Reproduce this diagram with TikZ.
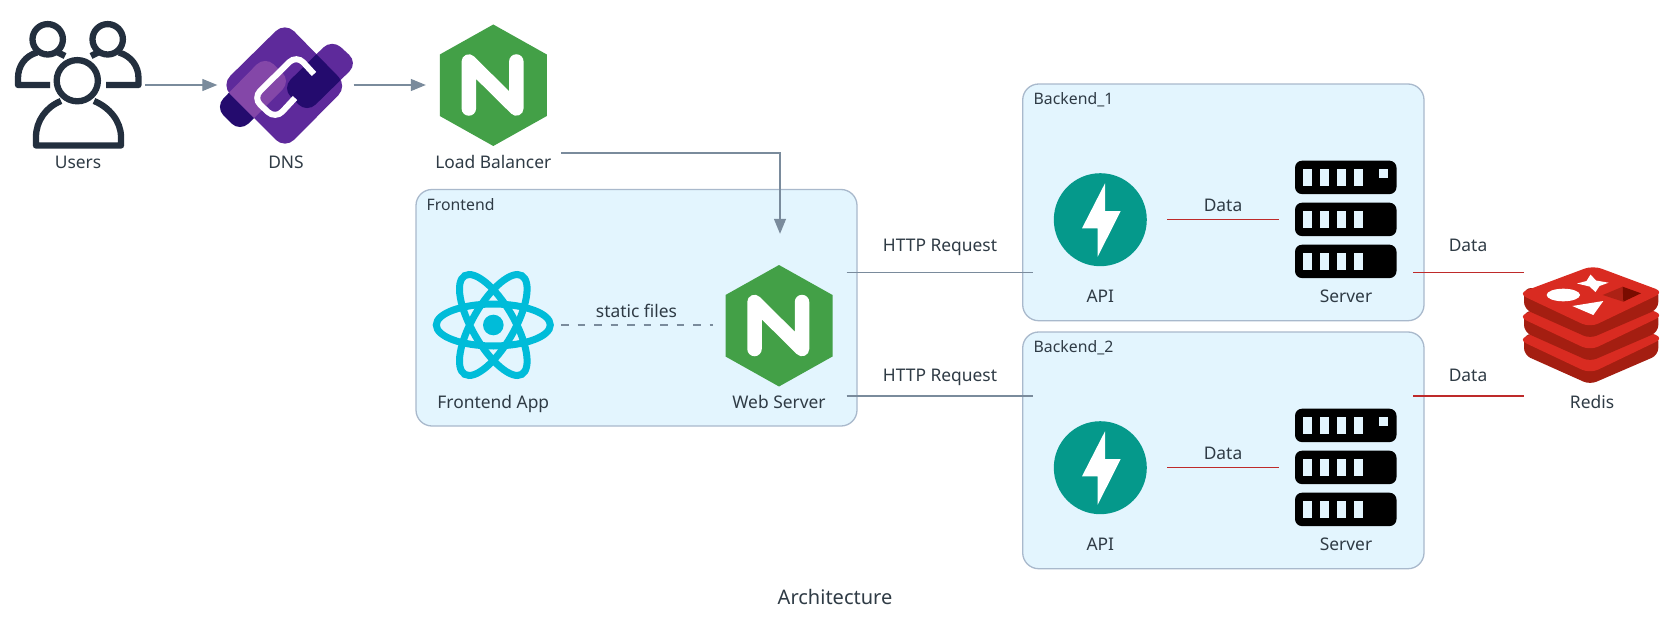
\documentclass[tikz,border=0pt]{standalone}
\usepackage{fontspec}
\setmainfont{Noto Sans}
\usetikzlibrary{arrows.meta,calc}
\definecolor{txt}{HTML}{2F3B45}
\definecolor{conn}{HTML}{7A8B9C}
\definecolor{redline}{HTML}{BE2A2A}
\definecolor{boxfill}{HTML}{E3F5FE}
\definecolor{boxline}{HTML}{A9B9CC}
\definecolor{awsdark}{HTML}{232F3E}
\definecolor{ngreen}{HTML}{43A047}
\definecolor{reactc}{HTML}{00BCD9}
\definecolor{fastc}{HTML}{05998B}
\definecolor{dnsmain}{HTML}{5E2A9B}
\definecolor{dnsdark}{HTML}{240B6E}
\definecolor{dnslight}{HTML}{8447A8}
\definecolor{redtop}{HTML}{D92B21}
\definecolor{redside}{HTML}{A41E11}
\definecolor{redcube}{HTML}{AD2115}
\definecolor{redcubed}{HTML}{7A0C00}
\tikzset{
  x=1pt,y=-1pt,
  lbl/.style={anchor=base,inner sep=0pt,text=txt,font=\fontsize{17.4}{20}\selectfont},
  grp/.style={anchor=base west,inner sep=0pt,text=txt,font=\fontsize{15.8}{18}\selectfont},
  ttl/.style={anchor=base,inner sep=0pt,text=txt,font=\fontsize{20}{24}\selectfont},
  groupbox/.style={draw=boxline,fill=boxfill,line width=1.3pt,rounded corners=16pt},
  iconbox/.style={inner sep=0pt,minimum width=#1,minimum height=130pt},
  flow/.style={draw=conn,line width=1.3pt},
  flowarrow/.style={flow,-{Triangle[length=15pt,width=12pt,fill=conn]}},
  dataline/.style={draw=redline,line width=1.3pt},
  pics/nginx/.style={code={
    \fill[ngreen] (0,-61) -- (53.5,-31) -- (53.5,30.5) -- (0,60.5) -- (-53.5,30.5) -- (-53.5,-31) -- cycle;
    \draw[white,line width=14.5pt,line cap=round,line join=round]
      (-24.5,23) -- (-24.5,-24) -- (23,23) -- (23,-24);
  }},
  pics/fastapi/.style={code={
    \fill[fastc] (0,0) circle[radius=46.5pt];
    \fill[white] (4.7,-36.4) -- (4.7,-8.7) -- (20.4,-8.7) -- (-2.6,37) -- (-2.6,8.6) -- (-18.3,8.6) -- cycle;
  }},
  pics/serverrack/.style={code={
    \foreach \yy in {-59,-17,25}{
      \fill[black,rounded corners=7pt] (-51,\yy) rectangle (50.5,\yy+33.4);
      \foreach \xx in {-42.7,-25.7,-9,8}{
        \fill[boxfill] (\xx,\yy+8.3) rectangle (\xx+8.7,\yy+25);
      }
    }
    \fill[boxfill] (33,-50.7) rectangle (41.7,-42);
  }},
  pics/redislayer/.style={code={
    \fill[redside,rounded corners=7pt] (1524,288) -- (1524,309) -- (1590,338.5) -- (1658.3,309) -- (1658.3,288) -- cycle;
    \fill[redtop,rounded corners=9pt] (1593,265.5) -- (1664,292) -- (1590,327.5) -- (1518,293.5) -- cycle;
  }},
}
\begin{document}
\begin{tikzpicture}
\useasboundingbox (0,0) rectangle (1678,626);
\fill[white] (0,0) rectangle (1678,626);

% groups
\draw[groupbox] (416,189.5) rectangle (857,426);
\draw[groupbox] (1022.7,84) rectangle (1424,320.7);
\draw[groupbox] (1022.7,332) rectangle (1424,568.7);
\node[grp] (gfront) at (426.5,210.5) {Frontend};
\node[grp] (gb1) at (1033.5,104.5) {Backend\_1};
\node[grp] (gb2) at (1033.5,352.5) {Backend\_2};

% anchor nodes for icons
\node[iconbox=132pt] (users) at (79,85) {};
\node[iconbox=136pt] (dns) at (285.5,85) {};
\node[iconbox=134pt] (lb) at (493,85) {};
\node[iconbox=136pt] (react) at (493,325) {};
\node[iconbox=134pt,minimum height=182pt] (web) at (780,325) {};
\node[iconbox=134pt] (api1) at (1100,219.7) {};
\node[iconbox=134pt] (srv1) at (1346,219.7) {};
\node[iconbox=134pt] (api2) at (1100,467.7) {};
\node[iconbox=134pt] (srv2) at (1346,467.7) {};
\node[iconbox=136pt] (redis) at (1592,325) {};
\coordinate (lbport) at (561,153);
\coordinate (webin1) at (846.5,272.7);
\coordinate (webin2) at (846.5,396);
\coordinate (b1in) at (1033,272.7);
\coordinate (b2in) at (1033,396);
\coordinate (b1out) at (1413,272.7);
\coordinate (b2out) at (1413,396);
\coordinate (redis1) at (1524,272.7);
\coordinate (redis2) at (1524,396);

% users icon
\begin{scope}[draw=awsdark,line width=6.3pt,line join=round]
  \draw (47.7,39.3) circle[radius=15.2pt];
  \draw (107.7,39.3) circle[radius=15.2pt];
  \draw (50,85) -- (18,85) -- (18,78) .. controls (18,66) and (25,56) .. (37,52.5);
  \draw (57,52) -- (65,56);
  \draw (106,85) -- (138.5,85) -- (138.5,78) .. controls (138.5,66) and (131,56) .. (119,52.5);
  \draw (99,52) -- (91,56);
  \draw (77.3,80.7) circle[radius=20.6pt];
  \draw (61,101) .. controls (46,107) and (36,121) .. (36,137) -- (36,145.5) -- (121,145.5) -- (121,137) .. controls (121,121) and (109,107) .. (94,101);
\end{scope}

% DNS icon
\fill[dnsmain,rounded corners=12pt] (332,39) -- (358,63) -- (307,113) -- (282,88) -- cycle;
\fill[dnsdark,rounded corners=12pt] (215,107) -- (240,132) -- (291,81) -- (265,56) -- cycle;
\fill[dnsmain,rounded corners=13pt] (285,22) -- (347.5,86) -- (285,149) -- (221,85) -- cycle;
\begin{scope}
  \clip[rounded corners=13pt] (285,22) -- (347.5,86) -- (285,149) -- (221,85) -- cycle;
  \fill[dnsdark,rounded corners=12pt] (332,39) -- (358,63) -- (307,113) -- (282,88) -- cycle;
  \fill[dnslight,rounded corners=12pt] (215,107) -- (240,132) -- (291,81) -- (265,56) -- cycle;
\end{scope}
\draw[white,line width=6pt,rounded corners=10pt] (314,74) -- (296.5,55) -- (253,98) -- (275.5,119) -- (295,98);

% nginx
\pic at (493.3,85.5) {nginx};
\pic at (779,326) {nginx};

% react
\begin{scope}[draw=reactc,line width=7pt]
  \draw (493.3,325) ellipse[x radius=57pt,y radius=21pt];
  \draw[rotate around={60:(493.3,325)}] (493.3,325) ellipse[x radius=57pt,y radius=21pt];
  \draw[rotate around={-60:(493.3,325)}] (493.3,325) ellipse[x radius=57pt,y radius=21pt];
\end{scope}
\fill[reactc] (493.3,325) circle[radius=10.3pt];

% backend icons
\pic at (1100.3,219.7) {fastapi};
\pic at (1346,219.7) {serverrack};
\pic at (1100.3,467.7) {fastapi};
\pic at (1346,467.7) {serverrack};

% redis
\pic at (0,46) {redislayer};
\pic at (0,23) {redislayer};
\pic at (0,0) {redislayer};
\fill[white] (1590.5,274.5) -- (1596,280.5) -- (1608.5,282.7) -- (1599.5,286) -- (1595.5,292) -- (1589.5,286.5) -- (1577,283.5) -- (1586.5,281) -- cycle;
\fill[white] (1563.3,295) ellipse[x radius=16.7pt,y radius=6.3pt];
\fill[white] (1572.3,306) -- (1603.3,301) -- (1593.3,315) -- cycle;
\fill[redcube] (1602.7,295) -- (1622.7,286.7) -- (1623.3,301.7) -- cycle;
\fill[redcubed] (1622.7,286.7) -- (1641,293.3) -- (1623.3,301.7) -- cycle;

% connectors
\draw[flowarrow] (users.east) -- (dns.west);
\draw[flowarrow] (dns.east) -- (lb.west);
\draw[flowarrow] (lbport) -| (web.north);
\draw[flow,dash pattern=on 7.5pt off 9pt] (react.east) -- (web.west);
\draw[flow] (webin1) -- (b1in);
\draw[flow] (webin2) -- (b2in);
\draw[dataline] (api1.east) -- (srv1.west);
\draw[dataline] (api2.east) -- (srv2.west);
\draw[dataline] (b1out) -- (redis1);
\draw[dataline] (b2out) -- (redis2);

% labels
\node[lbl] (lusers) at (78,168) {Users};
\node[lbl] (ldns) at (286,168) {DNS};
\node[lbl] (llb) at (493.3,168) {Load Balancer};
\node[lbl] (lreact) at (493.3,408) {Frontend App};
\node[lbl] (lweb) at (779,408) {Web Server};
\node[lbl] (lapi1) at (1100.3,302.7) {API};
\node[lbl] (lsrv1) at (1346,302.7) {Server};
\node[lbl] (lapi2) at (1100.3,550.7) {API};
\node[lbl] (lsrv2) at (1346,550.7) {Server};
\node[lbl] (lredis) at (1592,408) {Redis};
\node[lbl] (lstatic) at (636.5,317) {static files};
\node[lbl] (lh1) at (940,251.7) {HTTP Request};
\node[lbl] (lh2) at (940,381) {HTTP Request};
\node[lbl] (ld1) at (1223,211.7) {Data};
\node[lbl] (ld2) at (1223,459.7) {Data};
\node[lbl] (lr1) at (1468,251.7) {Data};
\node[lbl] (lr2) at (1468,381) {Data};
\node[ttl] (title) at (835,604) {Architecture};
\end{tikzpicture}
\end{document}
